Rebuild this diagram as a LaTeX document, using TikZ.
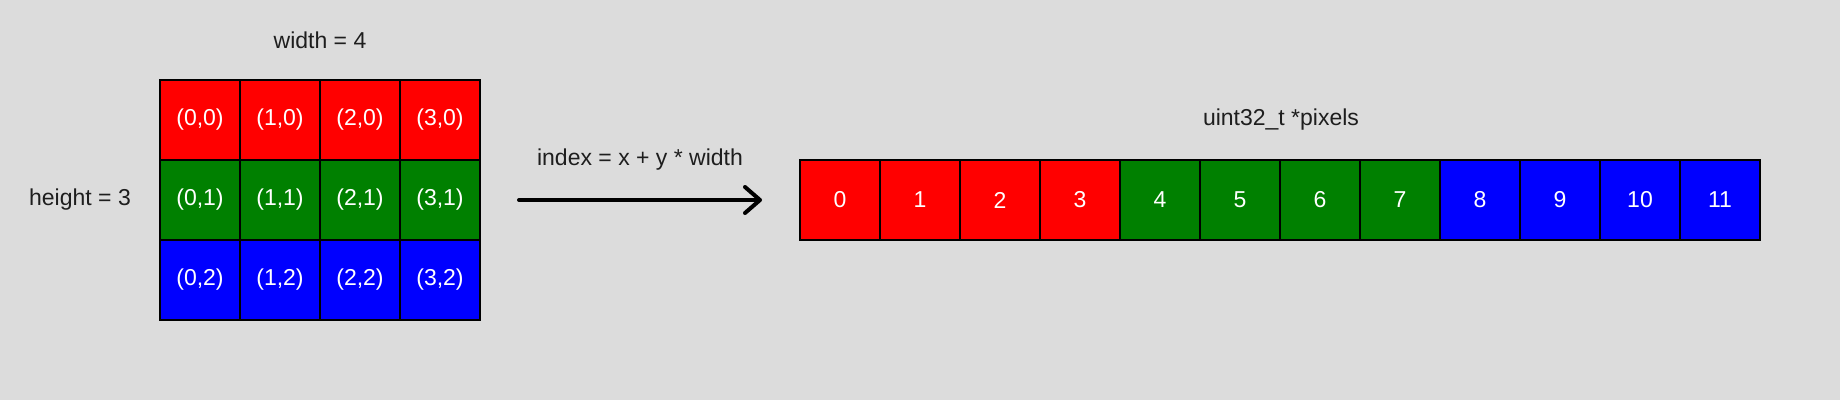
\documentclass[tikz,border=0pt]{standalone}
\usepackage{fontspec}
\setmainfont{Liberation Sans}
\usetikzlibrary{arrows.meta}
\definecolor{bg}{HTML}{DCDCDC}
\definecolor{txt}{HTML}{1E1E1E}
\definecolor{cred}{HTML}{FF0000}
\definecolor{cgreen}{HTML}{008000}
\definecolor{cblue}{HTML}{0000FF}
\tikzset{
  cell/.style={draw=black, line width=2pt, minimum width=80pt, minimum height=80pt,
    inner sep=0pt, outer sep=0pt, text=white, font=\fontsize{23}{27}\selectfont},
  lbl/.style={text=txt, inner sep=0pt, font=\fontsize{23}{27}\selectfont},
  conn/.style={line width=4pt, line cap=round, -{Straight Barb[length=15pt,width=26pt,line width=4pt, round]}}
}
\begin{document}
\begin{tikzpicture}[x=1pt,y=-1pt]
\fill[bg] (0,0) rectangle (1840,400);
\useasboundingbox (0,0) rectangle (1840,400);
% grid
\foreach \r/\col in {0/cred,1/cgreen,2/cblue}{
  \foreach \c in {0,1,2,3}{
    \node[cell, fill=\col] (g\c\r) at ({200+80*\c},{120+80*\r}) {(\c,\r)};
  }
}
\node[lbl] (wlabel) at (320,40) {width = 4};
\node[lbl] (hlabel) at (80,200) {height = 3};
% arrow
\coordinate (astart) at (519,200);
\coordinate (aend) at (762,200);
\draw[conn] (astart) -- (aend);
\node[lbl] (ilabel) at (640,160) {index = x + y * width};
% bar
\foreach \i/\col in {0/cred,1/cred,2/cred,3/cred,4/cgreen,5/cgreen,6/cgreen,7/cgreen,8/cblue,9/cblue,10/cblue,11/cblue}{
  \node[cell, fill=\col] (p\i) at ({840+80*\i},200) {\i};
}
\node[lbl] (plabel) at (1281,120) {uint32\_t *pixels};
\end{tikzpicture}
\end{document}
